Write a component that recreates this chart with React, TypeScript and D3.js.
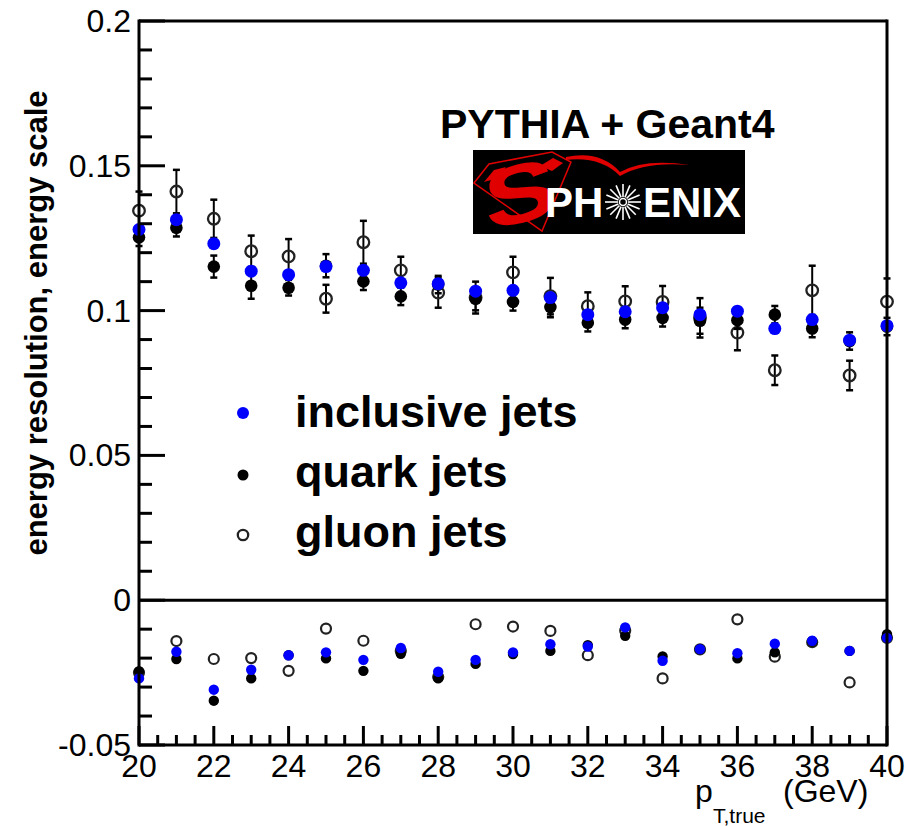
import React from "react";
import * as d3 from "d3";

// ---------- data ----------
const pT = [20, 21, 22, 23, 24, 25, 26, 27, 28, 29, 30, 31, 32, 33, 34, 35, 36, 37, 38, 39, 40];

const inclusiveRes = [0.128, 0.1314, 0.1231, 0.1136, 0.1124, 0.1152, 0.1139, 0.1096, 0.1093, 0.1067, 0.107, 0.1045, 0.0986, 0.0996, 0.101, 0.0986, 0.0998, 0.0938, 0.0969, 0.0898, 0.0948];
const quarkRes = [0.1253, 0.1286, 0.1152, 0.1086, 0.1079, 0.1155, 0.1101, 0.1049, 0.109, 0.1041, 0.103, 0.1012, 0.0958, 0.0969, 0.0975, 0.0965, 0.0967, 0.0986, 0.0938, 0.0895, 0.0945];
const quarkResErr = [0.003, 0.003, 0.0038, 0.0045, 0.0027, 0.004, 0.003, 0.003, 0.003, 0.004, 0.003, 0.0035, 0.003, 0.003, 0.003, 0.0045, 0.003, 0.003, 0.003, 0.003, 0.003];
const gluonRes = [0.1345, 0.1411, 0.1317, 0.1205, 0.1187, 0.1041, 0.1236, 0.1139, 0.1062, 0.1045, 0.1132, 0.105, 0.1015, 0.1032, 0.103, 0.0975, 0.0924, 0.0794, 0.107, 0.0776, 0.1031];
const gluonResErr = [0.0066, 0.0075, 0.0066, 0.0054, 0.006, 0.0048, 0.0074, 0.0047, 0.0052, 0.0055, 0.0054, 0.0063, 0.0048, 0.0052, 0.0055, 0.0068, 0.0061, 0.0051, 0.0085, 0.0051, 0.008];

const inclusiveScale = [-0.027, -0.0178, -0.0309, -0.024, -0.019, -0.018, -0.0206, -0.0165, -0.0247, -0.0206, -0.018, -0.0152, -0.016, -0.0094, -0.0209, -0.0169, -0.0183, -0.015, -0.014, -0.0175, -0.013];
const quarkScale = [-0.0245, -0.0203, -0.0347, -0.027, -0.019, -0.0201, -0.0244, -0.0185, -0.027, -0.022, -0.0186, -0.0175, -0.0155, -0.0123, -0.0194, -0.0169, -0.0201, -0.018, -0.0142, -0.0175, -0.0117];
const gluonScale = [-0.025, -0.0141, -0.0203, -0.02, -0.0244, -0.0098, -0.014, -0.0175, -0.0265, -0.0083, -0.0091, -0.0106, -0.019, -0.0105, -0.027, -0.017, -0.0066, -0.0195, -0.0145, -0.0284, -0.013];

const yMajorTicks = [-0.05, 0, 0.05, 0.1, 0.15, 0.2];
const yTickLabels = ["-0.05", "0", "0.05", "0.1", "0.15", "0.2"];
const xMajorTicks = [20, 22, 24, 26, 28, 30, 32, 34, 36, 38, 40];
const legendLabels = ["inclusive jets", "quark jets", "gluon jets"];

const FONT = "'Liberation Sans', Arial, Helvetica, sans-serif";

export default function App() {
  const W = 908, H = 826;
  const left = 139, right = 887, top = 21, bottom = 745;
  const x = d3.scaleLinear().domain([20, 40]).range([left, right]);
  const y = d3.scaleLinear().domain([-0.05, 0.2]).range([bottom, top]);

  const yMinor = d3.range(-50, 201, 10).map((v) => v / 1000).filter((v) => !yMajorTicks.some((m) => Math.abs(m - v) < 1e-9));
  const xMinor = d3.range(40, 81, 1).map((v) => v / 2).filter((v) => !xMajorTicks.includes(v));

  const errBar = (cx: number, v: number, e: number, key: string) => (
    <g key={key} stroke="#000" strokeWidth={2}>
      <line x1={cx} x2={cx} y1={y(v + e)} y2={y(v - e)} />
      <line x1={cx - 3.5} x2={cx + 3.5} y1={y(v + e)} y2={y(v + e)} strokeWidth={2.5} />
      <line x1={cx - 3.5} x2={cx + 3.5} y1={y(v - e)} y2={y(v - e)} strokeWidth={2.5} />
    </g>
  );

  const legendY = [413, 475, 535];

  return (
    <svg width={W} height={H} style={{ position: "absolute", left: 0, top: 0, background: "#fff" }} fontFamily={FONT}>
      <rect x={0} y={0} width={W} height={H} fill="#fff" />

      {/* upper panel: gluon */}
      {pT.map((p, i) => errBar(x(p), gluonRes[i], gluonResErr[i], "ge" + i))}
      {pT.map((p, i) => (
        <circle key={"go" + i} cx={x(p)} cy={y(gluonRes[i])} r={5.8} fill="none" stroke="#222" strokeWidth={2.3} />
      ))}
      {/* quark */}
      {pT.map((p, i) => errBar(x(p), quarkRes[i], quarkResErr[i], "qe" + i))}
      {pT.map((p, i) => (
        <circle key={"qo" + i} cx={x(p)} cy={y(quarkRes[i])} r={6.3} fill="#000" />
      ))}
      {/* inclusive */}
      {pT.map((p, i) => (
        <circle key={"io" + i} cx={x(p)} cy={y(inclusiveRes[i])} r={6.5} fill="#0000ff" />
      ))}

      {/* lower panel */}
      {pT.map((p, i) => (
        <circle key={"gs" + i} cx={x(p)} cy={y(gluonScale[i])} r={5} fill="none" stroke="#222" strokeWidth={2.2} />
      ))}
      {pT.map((p, i) => (
        <circle key={"qs" + i} cx={x(p)} cy={y(quarkScale[i])} r={5.2} fill="#000" />
      ))}
      {pT.map((p, i) => (
        <circle key={"is" + i} cx={x(p)} cy={y(inclusiveScale[i])} r={5.2} fill="#0000ff" />
      ))}

      {/* frame */}
      <g stroke="#000" strokeWidth={3} fill="none">
        <line x1={left} x2={left} y1={top - 1.5} y2={bottom + 1.5} />
        <line x1={right} x2={right} y1={top - 1.5} y2={bottom + 1.5} />
        <line x1={left} x2={right} y1={top} y2={top} />
        <line x1={left} x2={right} y1={bottom} y2={bottom} />
        <line x1={left} x2={right} y1={y(0)} y2={y(0)} />
      </g>

      {/* ticks */}
      <g stroke="#000" strokeWidth={3}>
        {yMajorTicks.map((v) => (
          <line key={"ym" + v} x1={left} x2={left + 26} y1={y(v)} y2={y(v)} />
        ))}
        {yMinor.map((v) => (
          <line key={"yn" + v} x1={left} x2={left + 13} y1={y(v)} y2={y(v)} />
        ))}
        {xMajorTicks.map((v) => (
          <line key={"xm" + v} x1={x(v)} x2={x(v)} y1={bottom} y2={bottom - 19} />
        ))}
        {xMinor.map((v) => (
          <line key={"xn" + v} x1={x(v)} x2={x(v)} y1={bottom} y2={bottom - 10} />
        ))}
      </g>

      {/* y tick labels */}
      {yMajorTicks.map((v, i) => (
        <text key={"yl" + v} x={131} y={y(v) + 11} textAnchor="end" fontSize={32} fill="#000">
          {yTickLabels[i]}
        </text>
      ))}
      {/* x tick labels */}
      {xMajorTicks.map((v) => (
        <text key={"xl" + v} x={x(v)} y={777} textAnchor="middle" fontSize={32} fill="#000">
          {v}
        </text>
      ))}

      {/* axis titles */}
      <text x={695} y={802} fontSize={32} fill="#000">p</text>
      <text x={713} y={823} fontSize={21} fill="#000">T,true</text>
      <text x={783} y={802} fontSize={32} fill="#000">(GeV)</text>
      <text transform="translate(47,323) rotate(-90)" textAnchor="middle" fontSize={31} fontWeight="bold" fill="#000">
        energy resolution, energy scale
      </text>

      {/* title */}
      <text x={440} y={138} fontSize={41} fontWeight="bold" fill="#000">PYTHIA + Geant4</text>

      {/* sPHENIX logo */}
      <g>
        <rect x={473} y={150} width={272} height={84} fill="#000" />
        <path d="M 566,157 Q 600,150 620,172 Q 645,158 690,165 Q 645,161 620,176 Q 600,156 566,160 Z" fill="#e00000" />
        <path d="M 474,183 L 489,164 L 552,152 L 571,162 L 542,231 Z" fill="none" stroke="#e00000" strokeWidth={1.5} />
        <path d="M 484,182 L 494,170 L 506,167 L 498,178 Z" fill="#e00000" />
        <path d="M 553,158 L 563,163 L 552,171 L 540,166 Z" fill="#e00000" />
        <text
          x={0}
          y={0}
          transform="translate(523,222) rotate(-14) skewX(-8) scale(1.35,1)"
          textAnchor="middle"
          fontSize={82}
          fontWeight="bold"
          fill="#e00000"
        >
          S
        </text>
        <text x={545} y={217} fontSize={42} fontWeight="bold" fill="#fff">PH</text>
        <g stroke="#fff" strokeWidth={1.6}>
          {d3.range(0, 16).map((k) => {
            const a = (k / 16) * Math.PI * 2;
            return (
              <line key={"sb" + k} x1={623 + 5 * Math.cos(a)} y1={202 + 5 * Math.sin(a)} x2={623 + 18 * Math.cos(a)} y2={202 + 18 * Math.sin(a)} />
            );
          })}
        </g>
        <circle cx={623} cy={202} r={3.5} fill="none" stroke="#fff" strokeWidth={1.5} />
        <text x={643} y={217} fontSize={42} fontWeight="bold" fill="#fff">ENIX</text>
      </g>

      {/* legend */}
      <circle cx={243} cy={legendY[0]} r={6} fill="#0000ff" />
      <circle cx={243} cy={legendY[1]} r={5.5} fill="#000" />
      <circle cx={243} cy={legendY[2]} r={5.2} fill="none" stroke="#222" strokeWidth={2.3} />
      {legendLabels.map((t, i) => (
        <text key={t} x={295} y={[427, 487, 547][i]} fontSize={45} fontWeight="bold" fill="#000">
          {t}
        </text>
      ))}
    </svg>
  );
}
